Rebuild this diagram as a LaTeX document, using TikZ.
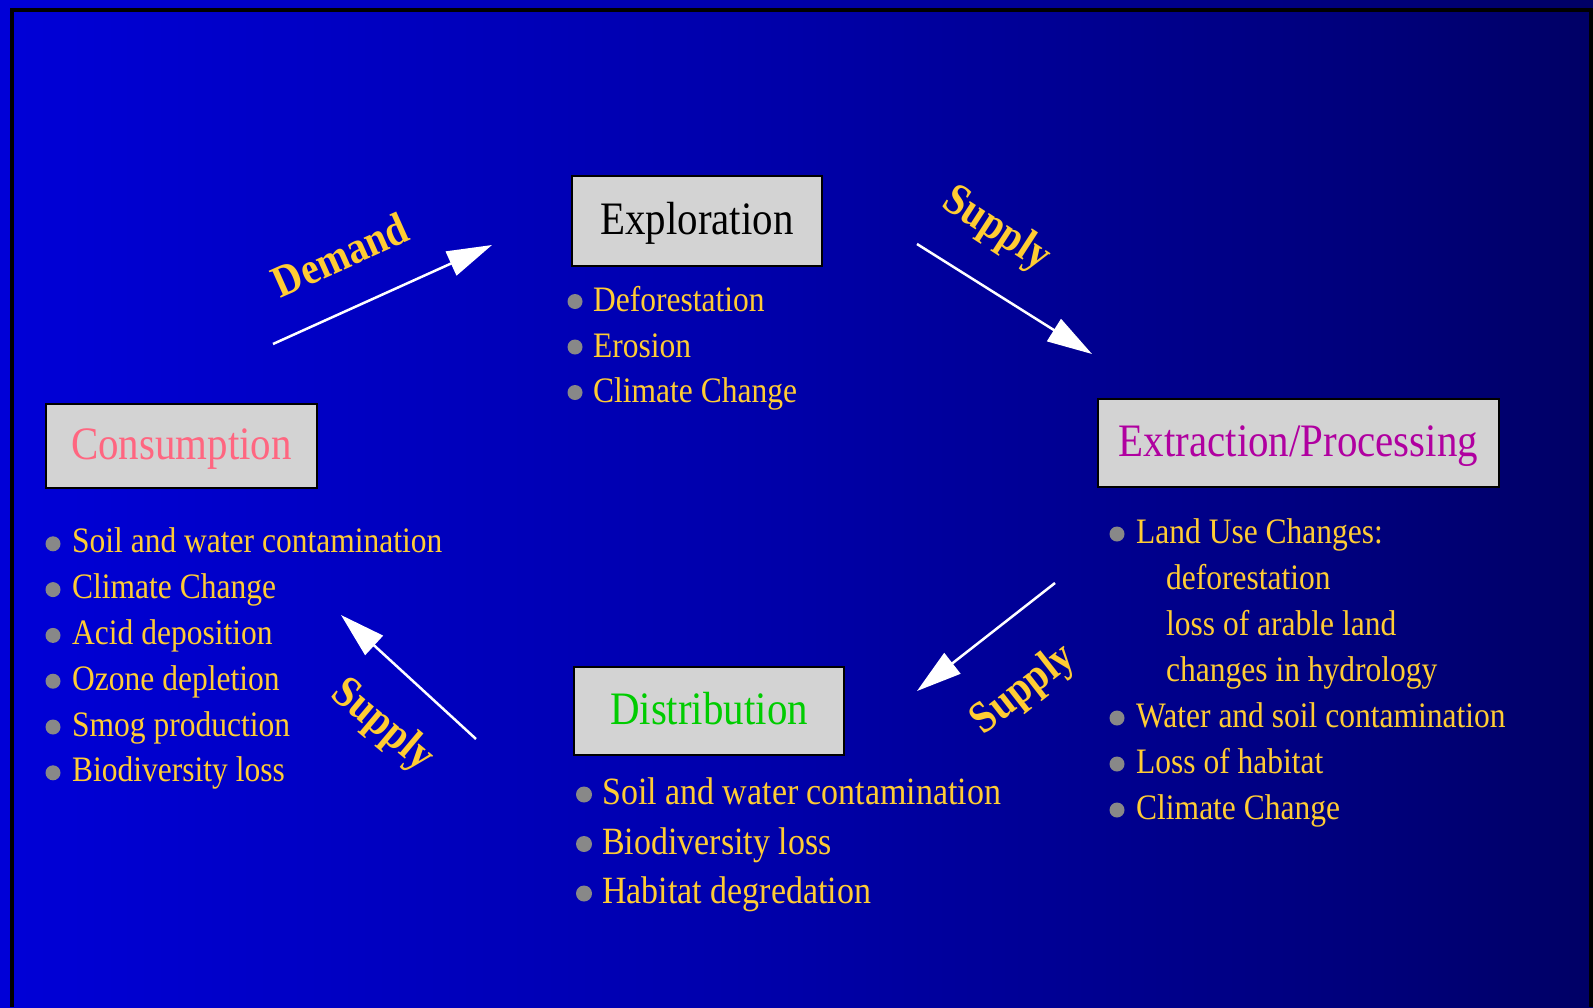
\documentclass[tikz,border=0pt]{standalone}
\usepackage{fontspec}
\setmainfont{Liberation Serif}[FakeStretch=0.88]
\usetikzlibrary{arrows.meta}
\definecolor{boxgray}{RGB}{211,211,211}
\definecolor{gold}{RGB}{255,204,51}
\definecolor{dotgray}{RGB}{136,136,136}
\definecolor{consred}{RGB}{255,102,128}
\definecolor{extrmag}{RGB}{176,0,160}
\definecolor{distgreen}{RGB}{0,204,0}
\definecolor{bga}{RGB}{0,0,242}
\definecolor{bgb}{RGB}{0,0,215}
\definecolor{bgc}{RGB}{0,0,168}
\definecolor{bgd}{RGB}{0,0,120}
\definecolor{bge}{RGB}{0,0,60}
\definecolor{bgf}{RGB}{0,0,18}
\pgfdeclarehorizontalshading{bgfade}{100bp}{color(0bp)=(bga); color(25bp)=(bgb); color(50bp)=(bgc); color(69bp)=(bgd); color(88bp)=(bge); color(100bp)=(bgf)}

\begin{document}
\begin{tikzpicture}[x=1pt, y=-1pt,
  stage/.style={draw=black, line width=2.5pt, fill=boxgray, inner sep=0pt, text height=33pt, text depth=6pt, font=\fontsize{46.5}{54}\selectfont},
  item/.style={anchor=base west, inner sep=0pt, text=gold, font=\fontsize{35.8}{42}\selectfont},
  dot/.style={circle, fill=dotgray, inner sep=0pt, minimum size=15pt},
  flow/.style={white, line width=2.5pt, -{Triangle[length=45pt,width=26pt]}},
  flowlbl/.style={text=gold, inner sep=0pt, font=\bfseries\fontsize{45}{52}\selectfont}]
\useasboundingbox (0,0) rectangle (1593,1007);
\shade[shading=bgfade] (0,0) rectangle (1593,1007);
\draw[line width=4pt] (12,1007) -- (12,10) -- (1591,10) -- (1591,1007);

\node[stage, minimum width=250pt, minimum height=90pt] (expl) at (697,221) {Exploration};
\node[stage, minimum width=271pt, minimum height=84pt, text=consred] (cons) at (181.5,446) {Consumption};
\node[stage, minimum width=401pt, minimum height=88pt, text=extrmag] (extr) at (1298.5,443) {Extraction/Processing};
\node[stage, minimum width=270pt, minimum height=88pt, text=distgreen] (dist) at (709,711) {Distribution};

\foreach \txt [count=\i] in {Deforestation, Erosion, Climate Change}{
  \node[dot] (expl-d\i) at (575,{256+45.5*\i}) {};
  \node[item] (expl-t\i) at (593,{266+45.5*\i}) {\txt};
}
\foreach \txt [count=\i] in {Soil and water contamination, Climate Change, Acid deposition, Ozone depletion, Smog production, Biodiversity loss}{
  \node[dot] (cons-d\i) at (53,{498+45.8*\i}) {};
  \node[item] (cons-t\i) at (72,{507+45.8*\i}) {\txt};
}
\foreach \i/\txt in {1/Land Use Changes:, 5/Water and soil contamination, 6/Loss of habitat, 7/Climate Change}{
  \node[dot] (extr-d\i) at (1117,{488+46*\i}) {};
  \node[item] (extr-t\i) at (1136,{497+46*\i}) {\txt};
}
\foreach \i/\txt in {2/deforestation, 3/loss of arable land, 4/changes in hydrology}
  \node[item] (extr-t\i) at (1166,{497+46*\i}) {\txt};
\foreach \txt [count=\i] in {Soil and water contamination, Biodiversity loss, Habitat degredation}{
  \node[dot, minimum size=16pt] (dist-d\i) at (584,{745+49.5*\i}) {};
  \node[item, font=\fontsize{38.6}{45}\selectfont] (dist-t\i) at (602,{755+49.5*\i}) {\txt};
}

\coordinate (dem-a) at (273,344);
\coordinate (dem-b) at (492,245);
\coordinate (sup1-a) at (917,244);
\coordinate (sup1-b) at (1092,354);
\coordinate (sup2-a) at (1055,583);
\coordinate (sup2-b) at (917,691);
\coordinate (sup3-a) at (476,739);
\coordinate (sup3-b) at (341,615);
\draw[flow] (dem-a) -- (dem-b);
\draw[flow] (sup1-a) -- (sup1-b);
\draw[flow] (sup2-a) -- (sup2-b);
\draw[flow] (sup3-a) -- (sup3-b);

\node[flowlbl, rotate=24] (dem-l) at (340,255) {Demand};
\node[flowlbl, rotate=-33] (sup1-l) at (996,230) {Supply};
\node[flowlbl, rotate=38] (sup2-l) at (1024,690) {Supply};
\node[flowlbl, rotate=-40] (sup3-l) at (382,726) {Supply};
\end{tikzpicture}
\end{document}
